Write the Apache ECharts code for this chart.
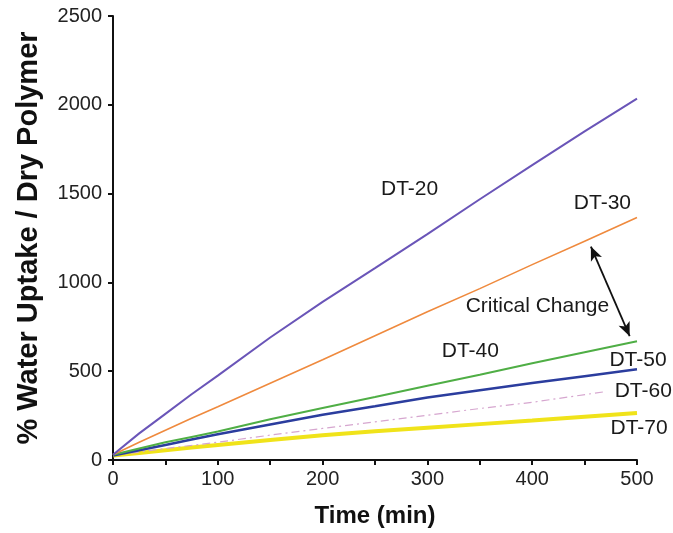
<!DOCTYPE html>
<html>
<head>
<meta charset="utf-8">
<script src="https://cdn.jsdelivr.net/npm/echarts@6/dist/echarts.min.js"></script>
<style>
  html, body { margin: 0; padding: 0; background: #fff; }
  #chart { width: 673px; height: 533px; }
</style>
</head>
<body>
<div id="chart"></div>
<script>
// time (min) and % water uptake per polymer
var time = [0, 25, 50, 75, 100, 150, 200, 250, 300, 350, 400, 450, 500];
var dt20 = [30, 150, 260, 370, 475, 690, 890, 1080, 1272, 1468, 1660, 1850, 2035];
var dt30 = [30, 100, 168, 235, 300, 432, 565, 700, 835, 965, 1100, 1232, 1365];
var dt40 = [30, 65, 100, 130, 160, 230, 293, 355, 418, 480, 545, 607, 669];
var dt50 = [25, 55, 85, 115, 145, 200, 255, 303, 352, 393, 433, 472, 511];
var time60 = [0, 25, 50, 75, 100, 150, 200, 250, 300, 350, 400, 470];
var dt60 = [25, 45, 65, 82, 100, 140, 178, 215, 252, 290, 325, 385];
var dt70 = [25, 40, 55, 70, 85, 113, 140, 162, 182, 202, 222, 243, 264];

// annotations [text, x, y] in data units
var notes = [
  ['DT-20', 283, 1522],
  ['DT-30', 467, 1445],
  ['Critical Change', 405, 865],
  ['DT-40', 341, 612],
  ['DT-50', 501, 560],
  ['DT-60', 506, 388],
  ['DT-70', 502, 180]
];
var arrowFrom = [456, 1202];
var arrowTo = [493, 697];

function pairs(xs, ys) {
  return ys.map(function (v, i) { return [xs[i], v]; });
}

var chart = echarts.init(document.getElementById('chart'));

var font = 'Liberation Sans, Arial, sans-serif';

function lineSeries(name, data, color, width, type) {
  return {
    name: name,
    type: 'line',
    data: data,
    showSymbol: false,
    lineStyle: { color: color, width: width, type: type || 'solid' },
    z: 2
  };
}

var series = [
  lineSeries('DT-70', pairs(time, dt70), '#f0e31a', 4),
  lineSeries('DT-60', pairs(time60, dt60), '#d6a6cf', 1.2, [8, 4, 2, 4]),
  lineSeries('DT-50', pairs(time, dt50), '#2b3d9e', 2.5),
  lineSeries('DT-40', pairs(time, dt40), '#4fae45', 2),
  lineSeries('DT-30', pairs(time, dt30), '#ef8a3e', 1.6),
  lineSeries('DT-20', pairs(time, dt20), '#6a55b8', 2)
];

// arrow between DT-30 and DT-40
series[series.length - 1].markLine = {
  silent: true,
  symbol: ['arrow', 'arrow'],
  symbolSize: [9, 14],
  label: { show: false },
  lineStyle: { color: '#111', width: 1.8, type: 'solid' },
  data: [[{ coord: arrowFrom }, { coord: arrowTo }]]
};

var option = {
  backgroundColor: '#fff',
  animation: false,
  grid: { left: 113, top: 16, right: 36, bottom: 72 },
  xAxis: {
    type: 'value',
    min: 0,
    max: 500,
    interval: 50,
    name: 'Time (min)',
    nameLocation: 'middle',
    nameGap: 44,
    nameTextStyle: { fontFamily: font, fontSize: 24, fontWeight: 'bold', color: '#111' },
    axisLine: { lineStyle: { color: '#111', width: 2 } },
    axisTick: { length: 5, lineStyle: { color: '#111', width: 2 } },
    axisLabel: {
      fontFamily: font, fontSize: 20, color: '#222', margin: 9,
      formatter: function (v) { return v % 100 === 0 ? String(v) : ''; }
    },
    splitLine: { show: false }
  },
  yAxis: {
    type: 'value',
    min: 0,
    max: 2500,
    interval: 500,
    name: '% Water Uptake / Dry Polymer',
    nameLocation: 'middle',
    nameGap: 70,
    nameTextStyle: { fontFamily: font, fontSize: 29, fontWeight: 'bold', color: '#111' },
    axisLine: { show: true, lineStyle: { color: '#111', width: 2 } },
    axisTick: { show: true, length: 5, lineStyle: { color: '#111', width: 2 } },
    axisLabel: {
      fontFamily: font, fontSize: 20, color: '#222', margin: 11,
      formatter: function (v) { return String(v); }
    },
    splitLine: { show: false }
  },
  series: series
};

chart.setOption(option);

// place the curve annotations through the chart's own scales
chart.setOption({
  graphic: notes.map(function (n) {
    var p = chart.convertToPixel({ gridIndex: 0 }, [n[1], n[2]]);
    return {
      type: 'text',
      x: p[0],
      y: p[1],
      z: 10,
      style: {
        text: n[0],
        fontFamily: font,
        fontSize: 21,
        fill: '#1a1a1a',
        textAlign: 'center',
        textVerticalAlign: 'middle'
      }
    };
  })
});
</script>
</body>
</html>
